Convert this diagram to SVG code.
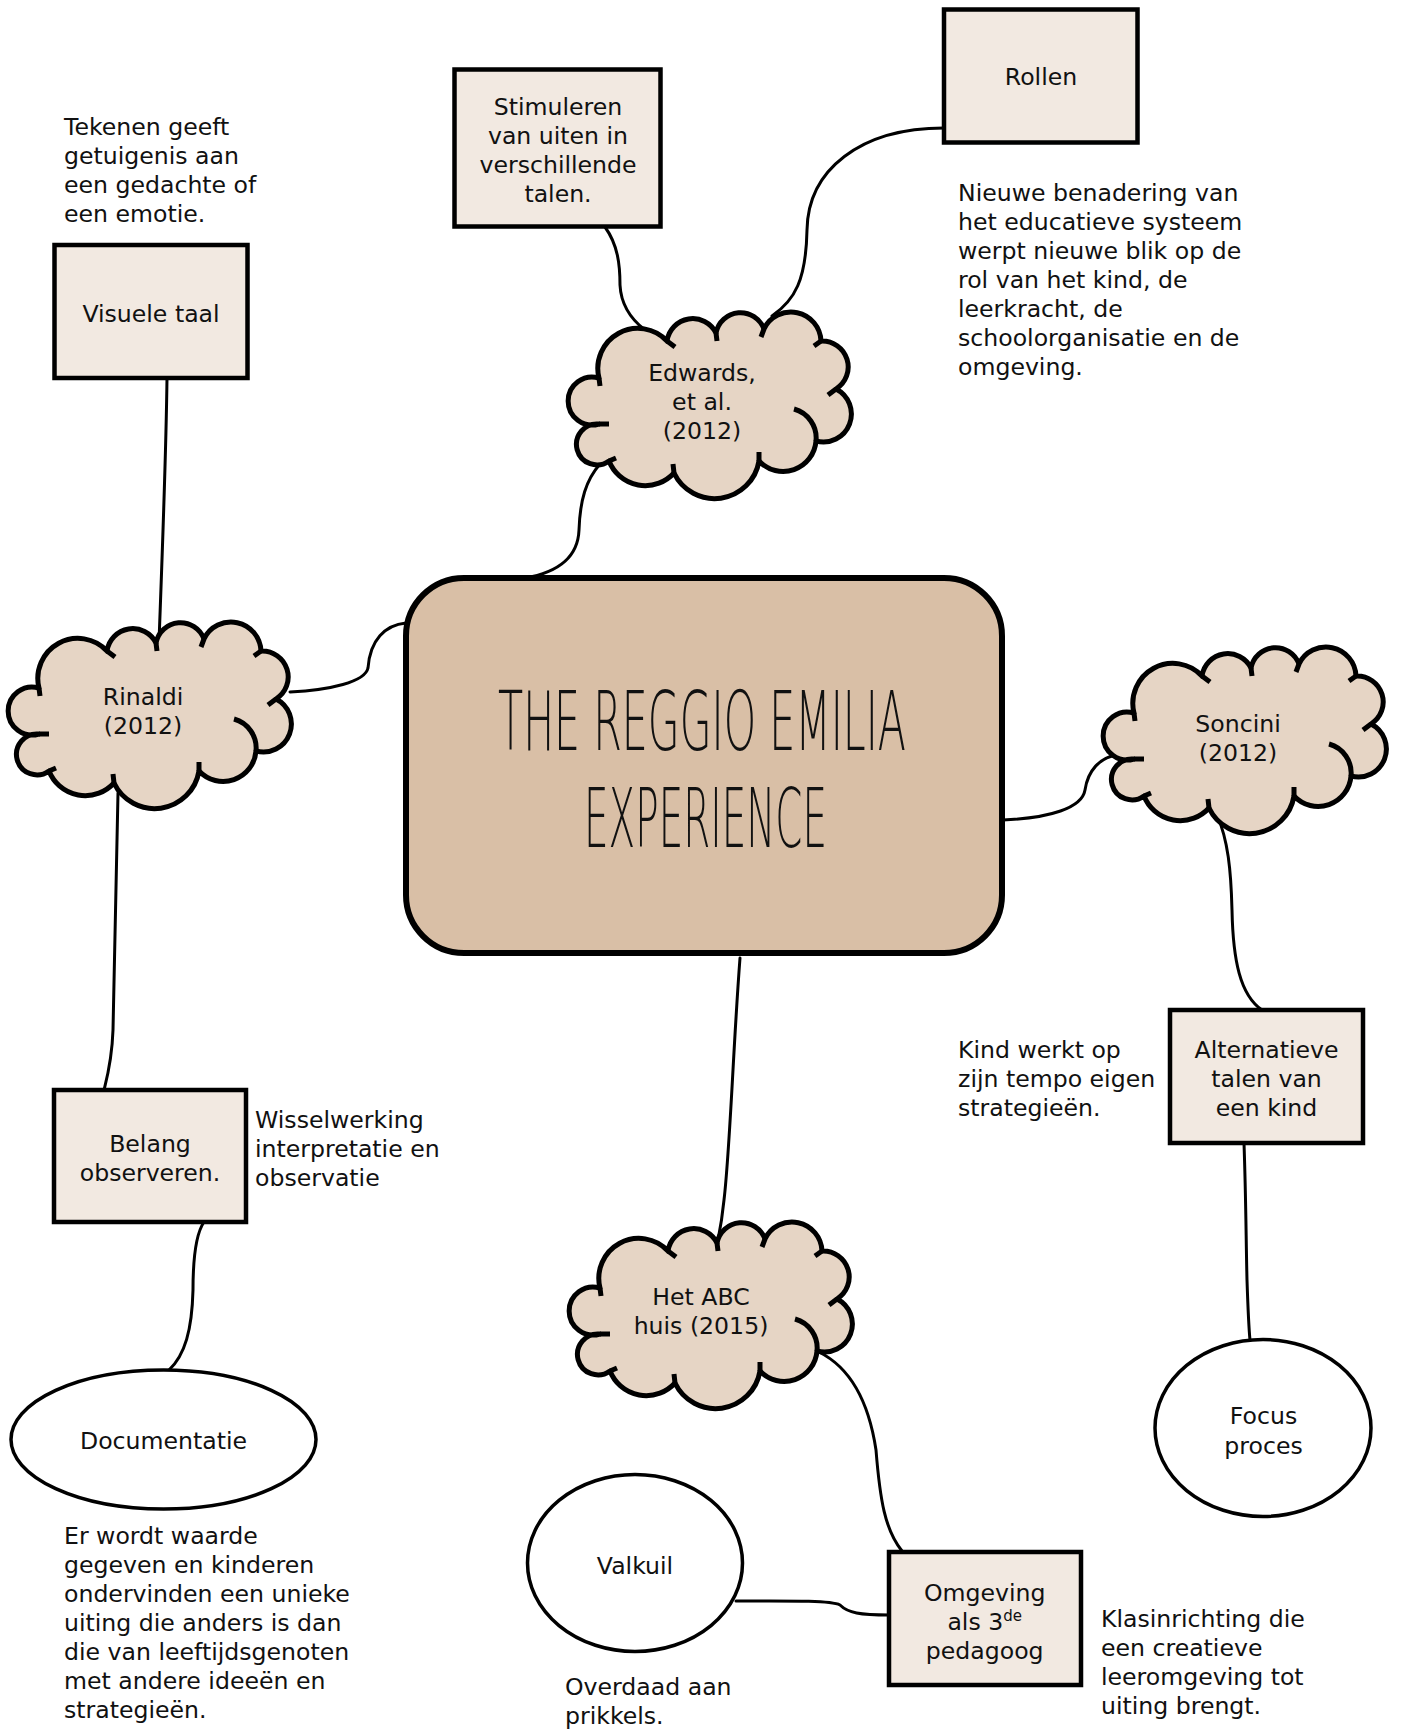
<svg xmlns="http://www.w3.org/2000/svg" xmlns:xlink="http://www.w3.org/1999/xlink" width="1402" height="1729" viewBox="0 0 1402 1729">
<style>
  .t { font-family: "DejaVu Sans", Verdana, sans-serif; font-size: 23.6px; fill: #111; }
  .c { text-anchor: middle; }
  .box { fill: #f2e9e1; stroke: #000; stroke-width: 4.5; }
  .cloud { fill: #e6d5c5; stroke: #000; stroke-width: 5; stroke-linejoin: round; }
  .tick { fill: none; stroke: #000; stroke-width: 5; }
  .ell { fill: #fff; stroke: #000; stroke-width: 3.5; }
  .con { fill: none; stroke: #000; stroke-width: 3; stroke-linecap: round; }
  .title { font-family: "DejaVu Sans", sans-serif; font-weight: 200; font-size: 82px; fill: #111; text-anchor: middle; }
</style>
<defs>
  <g id="cloud">
    <path class="cloud" d="M32,65 A40,40 0 0 1 100,28 A26,26 0 0 1 149,20 A25,25 0 0 1 197,16 A30,30 0 0 1 254,28 A26,26 0 0 1 269,76 A28,28 0 0 1 249,128 A33,33 0 0 1 192,148 A45,45 0 0 1 107,160 A39,39 0 0 1 42,148 A20.5,20.5 0 1 1 32,111 A24,24 0 1 1 32,65 Z"/>
    <path class="tick" d="M100,28 l8,6 M149,20 l1,8 M197,16 l-3,8 M254,28 l-7,5 M269,76 l-8,6 M227,96 A30,30 0 0 1 249,128 M192,148 l0,-9 M107,160 l-1,-9 M42,148 l7,-3 M32,111 l10,0 M32,65 l1,8"/>
  </g>
</defs>
<rect width="1402" height="1729" fill="#fff"/>

<g id="connectors">
  <path class="con" d="M167,378 C166,460 162,560 159,642"/>
  <path class="con" d="M118,793 C116,900 114,990 113,1030 C112,1060 107,1078 104,1090"/>
  <path class="con" d="M290,692 C330,690 365,682 368,668 C370,640 385,625 406,623"/>
  <path class="con" d="M600,464 C586,480 580,500 579,530 C578,556 560,572 525,578"/>
  <path class="con" d="M605,227 C618,245 620,265 620,285 C621,305 632,320 645,330"/>
  <path class="con" d="M944,128 C860,128 808,170 807,230 C806,280 795,300 772,316"/>
  <path class="con" d="M1003,820 C1050,818 1082,808 1085,790 C1088,770 1100,758 1116,755"/>
  <path class="con" d="M1217,815 C1228,840 1231,870 1232,910 C1233,960 1240,995 1262,1010"/>
  <path class="con" d="M740,958 C733,1050 730,1150 724,1200 C722,1220 720,1230 718,1240"/>
  <path class="con" d="M819,1352 C855,1370 870,1410 876,1450 C880,1500 885,1530 902,1551"/>
  <path class="con" d="M736,1601 C780,1601 830,1600 840,1605 C848,1613 860,1615 889,1615"/>
  <path class="con" d="M204,1222 C195,1235 193,1260 193,1290 C192,1330 185,1355 169,1370"/>
  <path class="con" d="M1244,1143 C1246,1200 1246,1240 1247,1280 C1248,1310 1249,1330 1250,1340"/>
</g>

<g id="main">
  <rect x="406" y="578" width="596" height="375" rx="58" ry="58" fill="#d9bfa6" stroke="#000" stroke-width="6"/>
  <text class="title" x="702" y="750" textLength="408" lengthAdjust="spacingAndGlyphs">THE REGGIO EMILIA</text>
  <text class="title" x="705.5" y="847" textLength="243" lengthAdjust="spacingAndGlyphs">EXPERIENCE</text>
</g>

<g id="note-tekenen">
  <text class="t" x="64" y="135">Tekenen geeft</text>
  <text class="t" x="64" y="164">getuigenis aan</text>
  <text class="t" x="64" y="193">een gedachte of</text>
  <text class="t" x="64" y="222">een emotie.</text>
</g>

<g id="node-visuele-taal">
  <rect class="box" x="54.5" y="245" width="193" height="133"/>
  <text class="t c" x="151" y="321.5">Visuele taal</text>
</g>

<g id="node-stimuleren">
  <rect class="box" x="454.5" y="69.5" width="206" height="157"/>
  <text class="t c" x="558" y="115">Stimuleren</text>
  <text class="t c" x="558" y="144">van uiten in</text>
  <text class="t c" x="558" y="173">verschillende</text>
  <text class="t c" x="558" y="202">talen.</text>
</g>

<g id="node-rollen">
  <rect class="box" x="944" y="9.5" width="193.5" height="133"/>
  <text class="t c" x="1041" y="85">Rollen</text>
</g>

<g id="note-nieuwe">
  <text class="t" x="958" y="201">Nieuwe benadering van</text>
  <text class="t" x="958" y="230">het educatieve systeem</text>
  <text class="t" x="958" y="259">werpt nieuwe blik op de</text>
  <text class="t" x="958" y="288">rol van het kind, de</text>
  <text class="t" x="958" y="317">leerkracht, de</text>
  <text class="t" x="958" y="346">schoolorganisatie en de</text>
  <text class="t" x="958" y="375">omgeving.</text>
</g>

<g id="node-edwards">
  <use xlink:href="#cloud" href="#cloud" transform="translate(567,313)"/>
  <text class="t c" x="702" y="381">Edwards,</text>
  <text class="t c" x="702" y="410">et al.</text>
  <text class="t c" x="702" y="439">(2012)</text>
</g>

<g id="node-rinaldi">
  <use xlink:href="#cloud" href="#cloud" transform="translate(7,623)"/>
  <text class="t c" x="143" y="705">Rinaldi</text>
  <text class="t c" x="143" y="734">(2012)</text>
</g>

<g id="node-soncini">
  <use xlink:href="#cloud" href="#cloud" transform="translate(1102,648)"/>
  <text class="t c" x="1238" y="731.5">Soncini</text>
  <text class="t c" x="1238" y="760.5">(2012)</text>
</g>

<g id="node-abc">
  <use xlink:href="#cloud" href="#cloud" transform="translate(568,1223)"/>
  <text class="t c" x="701" y="1304.5">Het ABC</text>
  <text class="t c" x="701" y="1333.5">huis (2015)</text>
</g>

<g id="node-alternatieve">
  <rect class="box" x="1170" y="1010" width="193" height="133"/>
  <text class="t c" x="1266.5" y="1058">Alternatieve</text>
  <text class="t c" x="1266.5" y="1087">talen van</text>
  <text class="t c" x="1266.5" y="1116">een kind</text>
</g>

<g id="note-kind">
  <text class="t" x="958" y="1058">Kind werkt op</text>
  <text class="t" x="958" y="1087">zijn tempo eigen</text>
  <text class="t" x="958" y="1116">strategieën.</text>
</g>

<g id="node-belang">
  <rect class="box" x="54" y="1090" width="192" height="132"/>
  <text class="t c" x="150" y="1152">Belang</text>
  <text class="t c" x="150" y="1181">observeren.</text>
</g>

<g id="note-wissel">
  <text class="t" x="255" y="1128">Wisselwerking</text>
  <text class="t" x="255" y="1157">interpretatie en</text>
  <text class="t" x="255" y="1186">observatie</text>
</g>

<g id="node-documentatie">
  <ellipse class="ell" cx="163.5" cy="1439.5" rx="152.5" ry="69.5"/>
  <text class="t c" x="163.5" y="1449">Documentatie</text>
</g>

<g id="note-erwordt">
  <text class="t" x="64" y="1544">Er wordt waarde</text>
  <text class="t" x="64" y="1573">gegeven en kinderen</text>
  <text class="t" x="64" y="1602">ondervinden een unieke</text>
  <text class="t" x="64" y="1631">uiting die anders is dan</text>
  <text class="t" x="64" y="1660">die van leeftijdsgenoten</text>
  <text class="t" x="64" y="1689">met andere ideeën en</text>
  <text class="t" x="64" y="1718">strategieën.</text>
</g>

<g id="node-valkuil">
  <ellipse class="ell" cx="635" cy="1563" rx="107.5" ry="88.5"/>
  <text class="t c" x="635" y="1574">Valkuil</text>
</g>

<g id="note-overdaad">
  <text class="t" x="565" y="1695">Overdaad aan</text>
  <text class="t" x="565" y="1724">prikkels.</text>
</g>

<g id="node-omgeving">
  <rect class="box" x="889" y="1552" width="192" height="133"/>
  <text class="t c" x="984.7" y="1600.5">Omgeving</text>
  <text class="t c" x="984.7" y="1629.5">als 3<tspan font-size="15" dy="-9">de</tspan></text>
  <text class="t c" x="984.7" y="1658.5">pedagoog</text>
</g>

<g id="note-klas">
  <text class="t" x="1101" y="1627">Klasinrichting die</text>
  <text class="t" x="1101" y="1656">een creatieve</text>
  <text class="t" x="1101" y="1685">leeromgeving tot</text>
  <text class="t" x="1101" y="1714">uiting brengt.</text>
</g>

<g id="node-focus">
  <ellipse class="ell" cx="1263" cy="1428" rx="108" ry="88.5"/>
  <text class="t c" x="1263.5" y="1424">Focus</text>
  <text class="t c" x="1263.5" y="1454">proces</text>
</g>
</svg>
